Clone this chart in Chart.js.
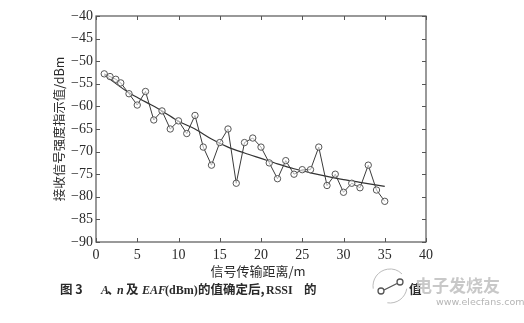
<!DOCTYPE html>
<html>
<head>
<meta charset="utf-8">
<script src="https://cdn.jsdelivr.net/npm/chart.js@4"></script>
<style>
html,body{margin:0;padding:0;background:#fff;}
#wrap{width:524px;height:323px;position:relative;}
</style>
</head>
<body>
<div id="wrap"><canvas id="c" width="524" height="323"></canvas></div>
<script>
// distances (m) and measured RSSI (dBm)
const distance = [1, 1.7, 2.4, 3, 4, 5, 6, 7, 8, 9, 10, 11, 12, 13, 14, 15, 16, 17, 18, 19, 20,
  21, 22, 23, 24, 25, 26, 27, 28, 29, 30, 31, 32, 33, 34, 35];
const rssi = [-52.8, -53.4, -54.0, -54.8, -57.2, -59.7, -56.7, -63, -61, -65, -63.2, -66, -62, -69, -73, -68, -65,
  -77, -68, -67, -69, -72.5, -76, -72, -75, -74, -74, -69, -77.5, -75, -79, -77, -78, -73, -78.5, -81];
// fitted curve read at selected distances
const fitDistance = [1, 2, 4, 6, 8, 10, 12, 14, 16, 18, 20, 22, 24, 26, 28, 30, 32, 35];
const fitRssi = [-53, -54.4, -57, -59, -61, -63.3, -65, -67.2, -69, -70.3, -71.5, -72.7, -73.8, -74.7, -75.5, -76.2, -76.8, -77.7];
// axis ticks
const xTicks = [0, 5, 10, 15, 20, 25, 30, 35, 40];
const yTicks = [-90, -85, -80, -75, -70, -65, -60, -55, -50, -45, -40];
const xTitle = '信号传输距离/m';
const yTitle = '接收信号强度指示值/dBm';

const serif = "'Liberation Serif','DejaVu Serif',serif";
const cjk = "'Noto Sans CJK SC','Liberation Serif',serif";
const ink = '#2a2a2a';

const decor = {
  id: 'decor',
  afterDraw(chart) {
    const ctx = chart.ctx;
    const a = chart.chartArea;
    const xs = chart.scales.x, ys = chart.scales.y;
    ctx.save();
    // box
    ctx.strokeStyle = '#555';
    ctx.lineWidth = 1.2;
    ctx.strokeRect(a.left, a.top, a.right - a.left, a.bottom - a.top);
    // inward ticks
    ctx.lineWidth = 1;
    const tl = 4;
    xTicks.forEach(v => {
      const p = Math.round(xs.getPixelForValue(v)) + 0.5;
      ctx.beginPath();
      ctx.moveTo(p, a.bottom); ctx.lineTo(p, a.bottom - tl);
      ctx.moveTo(p, a.top); ctx.lineTo(p, a.top + tl);
      ctx.stroke();
    });
    yTicks.forEach(v => {
      const p = Math.round(ys.getPixelForValue(v)) + 0.5;
      ctx.beginPath();
      ctx.moveTo(a.left, p); ctx.lineTo(a.left + tl, p);
      ctx.moveTo(a.right, p); ctx.lineTo(a.right - tl, p);
      ctx.stroke();
    });
    // axis titles
    ctx.fillStyle = ink;
    ctx.font = '13px ' + cjk;
    ctx.textAlign = 'center';
    ctx.textBaseline = 'middle';
    ctx.fillText(xTitle, (a.left + a.right) / 2 - 3, 271);
    ctx.save();
    ctx.translate(59, 129);
    ctx.rotate(-Math.PI / 2);
    ctx.font = '12.5px ' + cjk;
    ctx.fillText(yTitle, 0, 0);
    ctx.restore();

    // watermark logo (drawn under the caption's last character)
    ctx.strokeStyle = '#bbb';
    ctx.lineWidth = 1;
    ctx.fillStyle = '#fff';
    ctx.beginPath();
    ctx.arc(390, 286, 17, 0, Math.PI * 2);
    ctx.fill();
    ctx.beginPath();
    ctx.arc(390, 286, 17, Math.PI * 0.95, Math.PI * 1.75);
    ctx.stroke();
    ctx.beginPath();
    ctx.arc(390, 286, 17, Math.PI * 0.05, Math.PI * 0.55);
    ctx.stroke();
    ctx.strokeStyle = '#555';
    ctx.lineWidth = 1.3;
    ctx.beginPath(); ctx.arc(381, 291, 3, 0, Math.PI * 2); ctx.stroke();
    ctx.beginPath(); ctx.arc(400, 282, 3, 0, Math.PI * 2); ctx.stroke();
    ctx.beginPath(); ctx.moveTo(384, 290); ctx.lineTo(397, 283.5); ctx.stroke();

    // caption, pieces placed at their x positions
    const bc = 'bold 12.5px ' + cjk;
    const bs = 'bold 12px ' + serif;
    const bi = 'italic bold 12px ' + serif;
    const segs = [
      ['图 3', bc, 60], ['A', bi, 101], ['、', bc, 107], ['n', bi, 117], ['及', bc, 126],
      ['EAF', bi, 142], ['(dBm)', bs, 165], ['的值确定后,', bc, 198], ['RSSI', bs, 266],
      ['的', bc, 304], ['值', bc, 409]
    ];
    ctx.fillStyle = ink;
    ctx.textAlign = 'left';
    ctx.textBaseline = 'alphabetic';
    segs.forEach(([t, f, x]) => { ctx.font = f; ctx.fillText(t, x, 294); });

    ctx.fillStyle = 'rgba(190,190,190,0.85)';
    ctx.font = 'bold 17px ' + cjk;
    ctx.fillText('电子发烧友', 415, 292);
    ctx.font = '9.5px ' + "'DejaVu Sans',sans-serif";
    ctx.fillStyle = '#b5b5b5';
    ctx.fillText('www.elecfans.com', 436, 305);
    ctx.restore();
  }
};

new Chart(document.getElementById('c'), {
  type: 'line',
  data: {
    datasets: [
      {
        data: distance.map((d, i) => ({x: d, y: rssi[i]})),
        borderColor: '#3a3a3a',
        borderWidth: 1,
        pointRadius: 3.2,
        pointBorderWidth: 1,
        pointBorderColor: '#555',
        pointBackgroundColor: 'rgba(255,255,255,0.6)',
        tension: 0
      },
      {
        data: fitDistance.map((d, i) => ({x: d, y: fitRssi[i]})),
        borderColor: '#333',
        borderWidth: 1.2,
        pointRadius: 0,
        tension: 0.4,
        cubicInterpolationMode: 'monotone'
      }
    ]
  },
  options: {
    responsive: false,
    animation: false,
    events: [],
    layout: {padding: {left: 0, top: 16, right: 98, bottom: 0}},
    plugins: {legend: {display: false}, tooltip: {enabled: false}},
    scales: {
      x: {
        type: 'linear', min: 0, max: 40,
        afterFit(s) { s.height = 81; },
        afterBuildTicks(s) { s.ticks = xTicks.map(v => ({value: v})); },
        grid: {drawOnChartArea: false, drawTicks: false},
        border: {display: false},
        ticks: {padding: 5, color: ink, font: {family: serif, size: 14}, maxRotation: 0,
          callback: v => String(v)}
      },
      y: {
        type: 'linear', min: -90, max: -40,
        afterFit(s) { s.width = 96; },
        afterBuildTicks(s) { s.ticks = yTicks.map(v => ({value: v})); },
        grid: {drawOnChartArea: false, drawTicks: false},
        border: {display: false},
        ticks: {padding: 3, color: ink, font: {family: serif, size: 14},
          callback: v => '\u2212' + Math.abs(v)}
      }
    }
  },
  plugins: [decor]
});
</script>
</body>
</html>
